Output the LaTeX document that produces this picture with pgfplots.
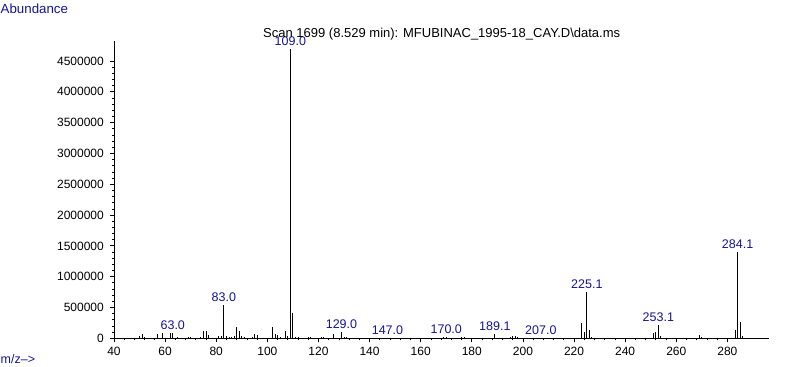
\documentclass[border=0pt]{standalone}
\usepackage{fontspec}
\setmainfont{Liberation Sans}
\usepackage{pgfplots}
\usepackage{pgfplotstable}
\pgfplotsset{compat=1.18}
\definecolor{lblue}{RGB}{20,20,150}

\pgfplotstableread{
mz ab
50 37000
51 70000
52 27000
57 76000
59 92000
62 81000
63 92000
65 21000
69 16000
70 16000
74 24000
75 119000
76 119000
77 60000
81 38000
82 43000
83 541000
84 32000
85 24000
86 24000
87 38000
88 184000
89 119000
90 32000
91 16000
94 24000
95 70000
96 60000
102 184000
103 76000
104 49000
105 21000
107 119000
108 43000
109 4700000
110 417000
111 16000
112 27000
116 16000
117 16000
121 16000
122 16000
126 70000
129 108000
130 24000
131 16000
147 8000
169 16000
170 16000
176 16000
177 16000
189 70000
195 16000
196 38000
197 38000
198 16000
207 8000
223 254000
224 108000
225 752000
226 135000
227 16000
251 92000
252 108000
253 211000
254 38000
269 49000
270 16000
283 135000
284 1401000
285 265000
286 38000
}\peaks

\pgfplotstableread{
mz ab lab
63 92000 63.0
83 541000 83.0
109 4700000 109.0
129 108000 129.0
147 8000 147.0
170 16000 170.0
189 70000 189.1
207 8000 207.0
225 752000 225.1
253 211000 253.1
284 1401000 284.1
}\labels

\begin{document}
\fontsize{12bp}{14bp}\selectfont
\begin{tikzpicture}
\useasboundingbox (0,0) rectangle (787bp,367bp);
\begin{axis}[
  at={(114bp,28.7bp)}, anchor=south west,
  scale only axis, width=655.3bp, height=297.6bp,
  xmin=40, xmax=296.4, ymin=0, ymax=4830000,
  axis x line*=bottom, axis y line*=left,
  xtick={40,60,80,100,120,140,160,180,200,220,240,260,280},
  minor x tick num=4,
  ytick={0,500000,1000000,1500000,2000000,2500000,3000000,3500000,4000000,4500000},
  minor y tick num=4,
  scaled y ticks=false,
  yticklabel style={/pgf/number format/fixed, /pgf/number format/1000 sep={}, /pgf/number format/assume math mode=true, xshift=-2bp},
  xticklabel style={/pgf/number format/assume math mode=true, yshift=-1bp},
  tick align=outside,
  xtick style={black, line width=0.8bp},
  ytick style={black, line width=0.8bp},
  x axis line style={black, line width=0.8bp},
  y axis line style={black, line width=0.8bp},
  major tick length=4bp, minor tick length=2bp,
  clip=false,
]
\addplot[ycomb, black, line width=1bp, mark=none] table[x=mz,y=ab]{\peaks};
\addplot[only marks, mark=none, nodes near coords, point meta=explicit symbolic,
  nodes near coords style={anchor=south, inner sep=0pt, yshift=3bp, text=lblue, font=\fontsize{12.5bp}{14bp}\selectfont}]
  table[x=mz,y=ab,meta=lab]{\labels};
\end{axis}
\node[anchor=base west, inner sep=0pt, font=\fontsize{13bp}{15bp}\selectfont] at (263bp,329.7bp) {Scan 1699 (8.529 min): MFUBINAC\_1995-18\_CAY.D\textbackslash data.ms};
\node[anchor=base west, inner sep=0pt, text=lblue, font=\fontsize{13.3bp}{15bp}\selectfont] at (0.5bp,353.7bp) {Abundance};
\node[anchor=base west, inner sep=0pt, text=lblue, font=\fontsize{12.5bp}{15bp}\selectfont] at (0.5bp,3.7bp) {m/z-->};
\end{tikzpicture}
\end{document}
